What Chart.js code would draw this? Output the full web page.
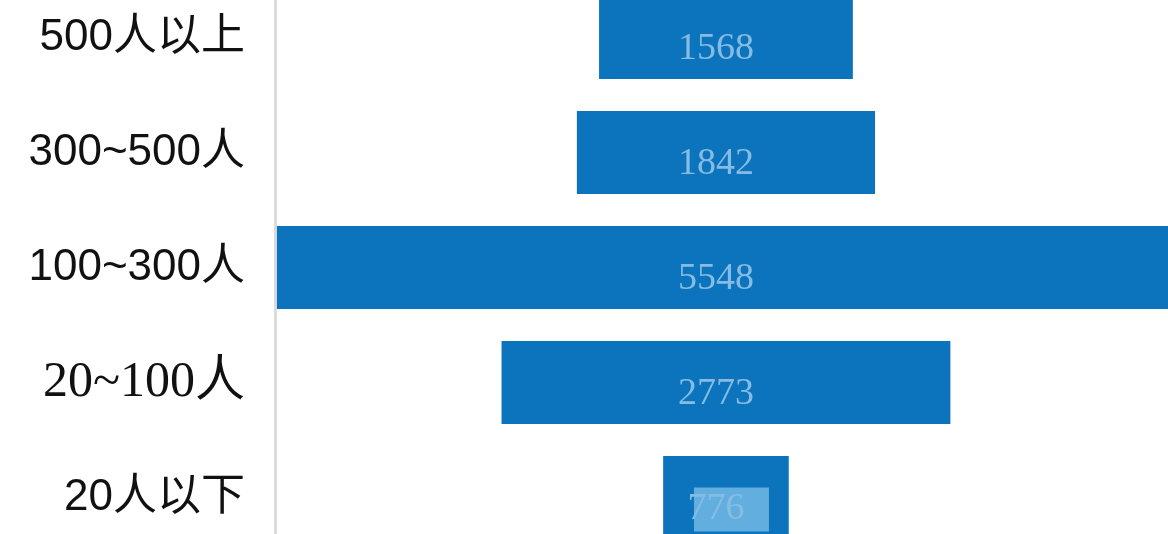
<!DOCTYPE html>
<html>
<head>
<meta charset="utf-8">
<script src="https://cdn.jsdelivr.net/npm/chart.js@4"></script>
<style>
  html, body { margin: 0; padding: 0; background: #fff; overflow: hidden; }
  #wrap { position: absolute; left: 0; top: -20px; width: 1168px; height: 575px; }
</style>
</head>
<body>
<div id="wrap"><canvas id="funnel"></canvas></div>
<script>
const categories = ['500人以上', '300~500人', '100~300人', '20~100人', '20人以下'];
const counts = [1568, 1842, 5548, 2773, 776];

const barColor = '#0b74bd';
const textColor = '#86bce3';

// draws the count in the middle of each bar
const valueLabels = {
    id: 'valueLabels',
    afterDatasetsDraw(chart) {
        const ctx = chart.ctx;
        const meta = chart.getDatasetMeta(0);
        ctx.save();
        meta.data.forEach((bar, i) => {
            const cx = bar.x - (bar.width / 2) - 10;
            const cy = bar.y + 12;
            if (i === counts.length - 1) {
                ctx.fillStyle = '#62afdf';
                ctx.fillRect(cx - 22, cy - 22, 75, 44);
            }
            ctx.fillStyle = textColor;
            ctx.font = '38px "Liberation Serif", serif';
            ctx.textAlign = 'center';
            ctx.textBaseline = 'middle';
            ctx.fillText(String(counts[i]), cx, cy);
        });
        ctx.restore();
    }
};

const half = Math.max(...counts) / 2;

new Chart(document.getElementById('funnel'), {
    type: 'bar',
    data: {
        labels: categories,
        datasets: [{
            data: counts.map(v => [-v / 2, v / 2]),
            backgroundColor: barColor,
            borderWidth: 0,
            barPercentage: 0.72,
            categoryPercentage: 1,
        }],
    },
    options: {
        indexAxis: 'y',
        responsive: true,
        maintainAspectRatio: false,
        animation: false,
        layout: { padding: 0 },
        plugins: {
            legend: { display: false },
            tooltip: { enabled: false },
        },
        scales: {
            x: {
                display: false,
                min: -half - 12,
                max: half - 43,
            },
            y: {
                afterFit(scale) {
                    scale.width = 275;
                    scale.paddingTop = 0;
                    scale.paddingBottom = 0;
                },
                grid: { display: false, drawTicks: false },
                border: { display: true, color: '#dcdcdc', width: 3 },
                ticks: {
                    padding: 30,
                    color: '#111',
                    font: ctx => ctx.index === 3
                        ? { family: '"Liberation Serif", "Noto Sans CJK SC", serif', size: 50 }
                        : { family: '"Liberation Sans", "Noto Sans CJK SC", sans-serif', size: 44 },
                },
            },
        },
    },
    plugins: [valueLabels],
});
</script>
</body>
</html>
